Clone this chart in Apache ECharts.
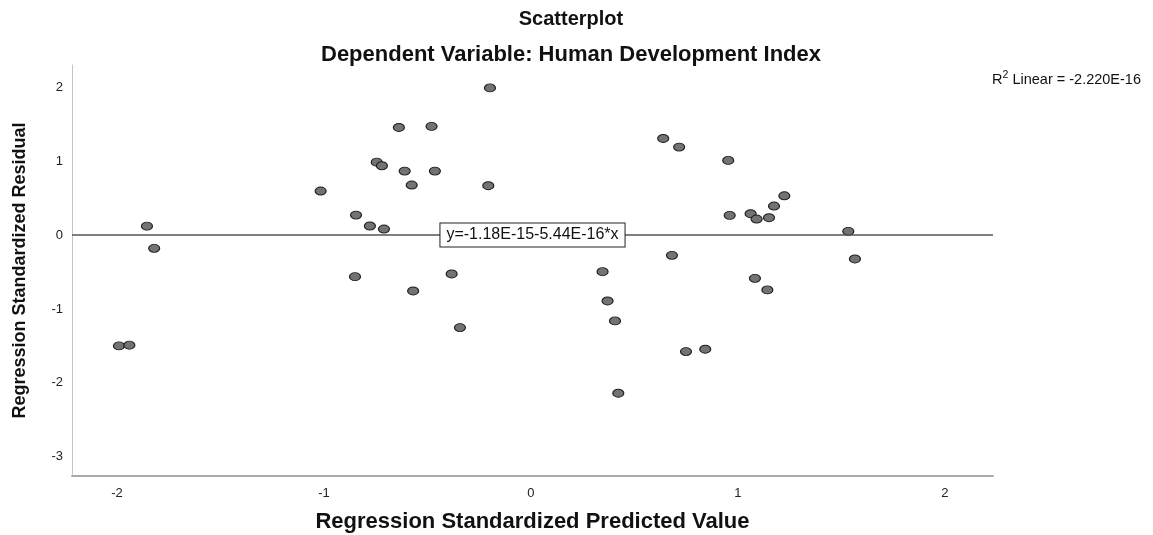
<!DOCTYPE html>
<html>
<head>
<meta charset="utf-8">
<script src="https://cdn.jsdelivr.net/npm/echarts@6/dist/echarts.min.js"></script>
<style>
html,body{margin:0;padding:0;background:#fff;}
#chart{width:1153px;height:535px;}
</style>
</head>
<body>
<div id="chart"></div>
<script>
// Regression Standardized Predicted Value
const predicted = [
  -1.99, -1.94, -1.855, -1.82,
  -0.198, -0.638, -0.48, -0.745, -0.72, -0.61, -0.464, -0.576, -0.206, -1.016, -0.845, -0.778, -0.71,
  -0.85, -0.383, -0.569, -0.343,
  0.639, 0.716, 0.953, 0.96, 1.061, 1.09, 1.15, 1.174, 1.224, 1.533,
  0.681, 0.346, 1.565, 1.082, 1.142, 0.37, 0.406, 0.749, 0.842, 0.422
];
// Regression Standardized Residual
const residual = [
  -1.50, -1.49, 0.12, -0.18,
  1.99, 1.455, 1.47, 0.986, 0.937, 0.865, 0.865, 0.676, 0.667, 0.595, 0.27, 0.122, 0.081,
  -0.563, -0.527, -0.757, -1.252,
  1.306, 1.19, 1.009, 0.266, 0.288, 0.216, 0.234, 0.392, 0.531, 0.05,
  -0.275, -0.496, -0.324, -0.586, -0.743, -0.892, -1.162, -1.577, -1.545, -2.14
];
const xTicks = [-2, -1, 0, 1, 2];
const yTicks = [-3, -2, -1, 0, 1, 2];
const fitIntercept = -1.18e-15;
const fitSlope = -5.44e-16;
const fitLabel = 'y=-1.18E-15-5.44E-16*x';
const r2Label = '-2.220E-16';

const xMin = -2.217, xMax = 2.232;
const yMin = -3.26, yMax = 2.30;
const font = '"Liberation Sans", Arial, sans-serif';

const points = predicted.map((x, i) => [x, residual[i]]);
const fitY = x => fitIntercept + fitSlope * x;

const chart = echarts.init(document.getElementById('chart'));
chart.setOption({
  animation: false,
  backgroundColor: '#fff',
  textStyle: { fontFamily: font },
  title: [
    {
      text: 'Scatterplot', left: 566, top: 4, textAlign: 'center',
      textStyle: { fontFamily: font, fontWeight: 'bold', fontSize: 20, color: '#111' }
    },
    {
      text: 'Dependent Variable: Human Development Index', left: 566, top: 39, textAlign: 'center',
      textStyle: { fontFamily: font, fontWeight: 'bold', fontSize: 22, color: '#111' }
    },
    {
      text: '{a|R}{s|2}{a| Linear = ' + r2Label + '}', right: 7, top: 65,
      textStyle: {
        fontFamily: font, fontWeight: 'normal',
        rich: {
          a: { fontFamily: font, fontWeight: 'normal', fontSize: 14.5, color: '#111', lineHeight: 17, verticalAlign: 'bottom' },
          s: { fontFamily: font, fontWeight: 'normal', fontSize: 10.5, color: '#111', lineHeight: 17, verticalAlign: 'top' }
        }
      }
    }
  ],
  grid: { left: 72, right: 160, top: 65, bottom: 59, containLabel: false, outerBoundsMode: 'none' },
  xAxis: {
    type: 'value', min: xMin, max: xMax,
    name: 'Regression Standardized Predicted Value', nameLocation: 'middle', nameGap: 35,
    nameTextStyle: { fontFamily: font, fontWeight: 'bold', fontSize: 22, color: '#111' },
    axisLine: { show: true, onZero: false, lineStyle: { color: '#aaa', width: 2 } },
    axisTick: { show: false },
    splitLine: { show: false },
    axisLabel: { customValues: xTicks, margin: 11, fontFamily: font, fontSize: 13, color: '#222' }
  },
  yAxis: {
    type: 'value', min: yMin, max: yMax,
    name: 'Regression Standardized Residual', nameLocation: 'middle', nameGap: 43,
    nameTextStyle: { fontFamily: font, fontWeight: 'bold', fontSize: 18, color: '#111' },
    axisLine: { show: true, onZero: false, lineStyle: { color: '#c4c4c4', width: 1 } },
    axisTick: { show: false },
    splitLine: { show: false },
    axisLabel: { customValues: yTicks, margin: 9, fontFamily: font, fontSize: 13, color: '#222' }
  },
  series: [{
    type: 'scatter',
    data: points,
    symbol: 'circle',
    symbolSize: [11, 8],
    itemStyle: { color: '#737373', borderColor: '#1e1e1e', borderWidth: 1, opacity: 1 },
    z: 3,
    markLine: {
      silent: true,
      symbol: ['none', 'none'],
      lineStyle: { color: '#555', width: 1.5, type: 'solid' },
      label: {
        show: true, position: 'insideMiddle', formatter: fitLabel,
        fontFamily: font, fontSize: 16, color: '#111',
        backgroundColor: '#fff', borderColor: '#222', borderWidth: 1, padding: [4, 6, 3, 6]
      },
      data: [[{ coord: [xMin, fitY(xMin)] }, { coord: [xMax, fitY(xMax)] }]]
    }
  }]
});
</script>
</body>
</html>
